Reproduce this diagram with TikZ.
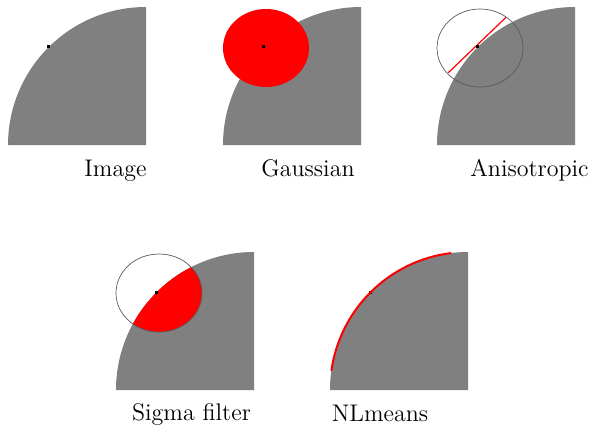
\documentclass[tikz,border=0pt]{standalone}
\usetikzlibrary{positioning}
\definecolor{cRegion}{HTML}{808080}
\definecolor{cWeight}{HTML}{FF0000}
\definecolor{cWindow}{HTML}{5A5A5A}
\tikzset{
  region/.style={fill=cRegion, draw=none},
  window/.style={draw=cWindow, line width=0.35pt},
  weight/.style={fill=cWeight, draw=none},
  edgeline/.style={draw=cWeight, line width=#1},
  pixel/.style={fill=black},
  caption/.style={font=\fontsize{12}{14}\selectfont, anchor=base, inner sep=0pt},
}
\newcommand{\quarterdisk}[1]{(#1) -- ++(-138,0) arc[start angle=180, end angle=90, radius=138] -- cycle}

\begin{document}
\begin{tikzpicture}[x=0.5pt, y=0.5pt]
\useasboundingbox (0,0) rectangle (592,429);
% corners of the five panels
\coordinate (img) at (146,284);
\coordinate (gauss) at (361,284);
\coordinate (aniso) at (575,284);
\coordinate (sigma) at (254,39);
\coordinate (nlm) at (468,39);
\foreach \p in {img,gauss,aniso,sigma,nlm}
  \fill[region] \quarterdisk{\p};
% Gaussian
\fill[weight] ([shift={(-95,97)}]gauss) ellipse [x radius=43, y radius=39];
% Anisotropic
\draw[window] ([shift={(-95,97)}]aniso) ellipse [x radius=43, y radius=39];
\coordinate (a1) at ([shift={(-126.7,72.3)}]aniso);
\coordinate (a2) at ([shift={(-69,127.7)}]aniso);
\draw[edgeline=0.6pt] (a1) -- (a2);
% Sigma filter
\begin{scope}
  \clip \quarterdisk{sigma};
  \fill[weight] ([shift={(-95,97)}]sigma) ellipse [x radius=43, y radius=39];
\end{scope}
\draw[window] ([shift={(-95,97)}]sigma) ellipse [x radius=43, y radius=39];
% centre pixels
\foreach \p in {img,gauss,aniso,sigma,nlm}
  \fill[pixel] ([shift={(-99.5,96.5)}]\p) rectangle ++(3,3);
% NLmeans
\draw[edgeline=1pt] ([shift={(97:138)}]nlm) arc[start angle=97, end angle=172, radius=138];
% captions
\node[caption] (capImg) at (115.5,253) {Image};
\node[caption] (capGauss) at (308,253) {Gaussian};
\node[caption] (capAniso) at (529.5,253) {Anisotropic};
\node[caption] (capSigma) at (191.5,9) {Sigma filter};
\node[caption] (capNlm) at (380,8) {NLmeans};
\end{tikzpicture}
\end{document}
